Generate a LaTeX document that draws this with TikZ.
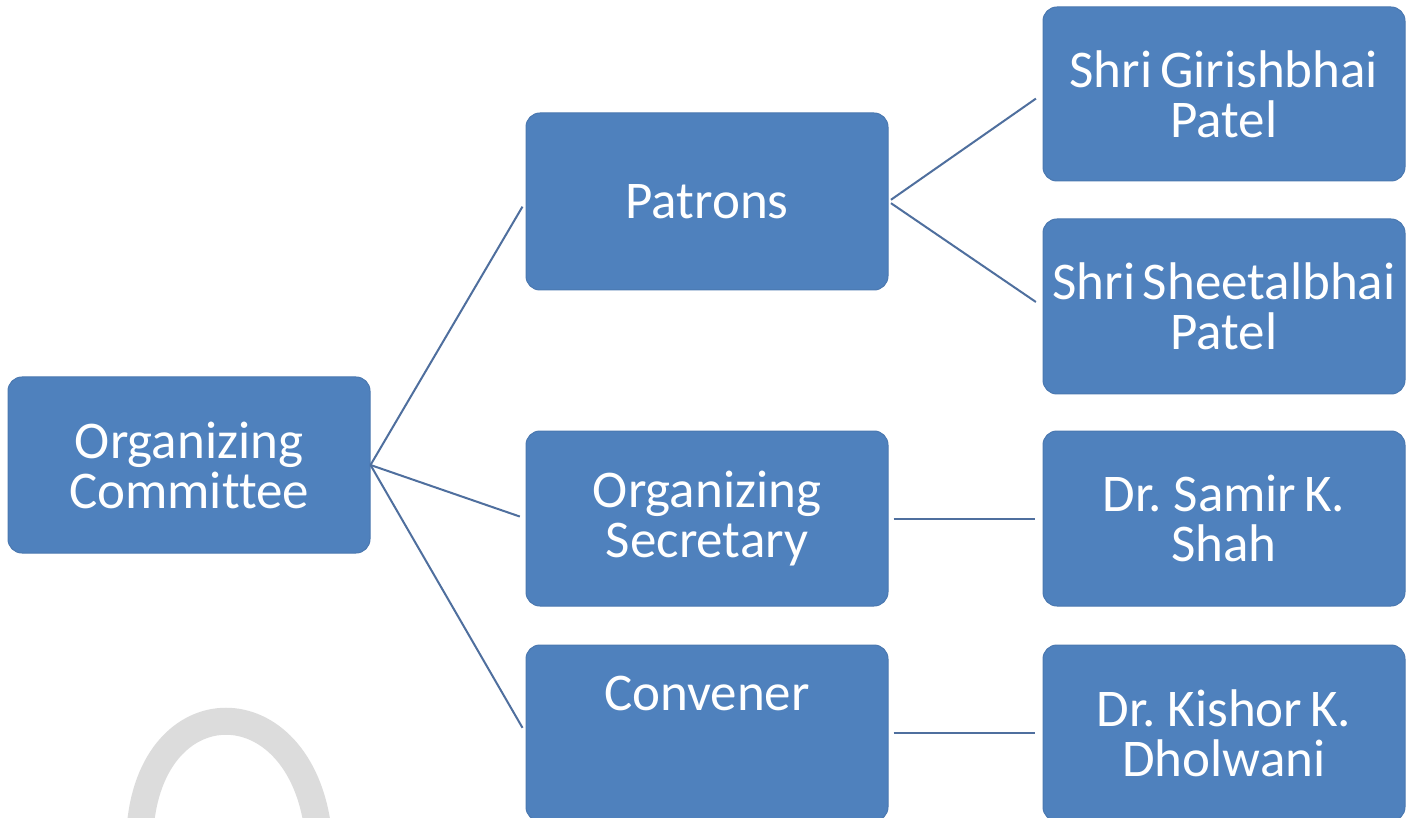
\documentclass[tikz,border=0pt]{standalone}
\usepackage{fontspec}
\setmainfont{Carlito}[Ligatures=CommonOff, WordSpace={0.65}]
\definecolor{boxblue}{HTML}{4F81BD}
\definecolor{boxedge}{HTML}{4A78B0}
\definecolor{linec}{HTML}{4F6F9E}
\definecolor{wmark}{HTML}{DCDCDC}
\tikzset{
  orgbox/.style={draw=boxedge, line width=1pt, fill=boxblue, rounded corners=14pt,
    minimum width=362pt, minimum height=176pt, text=white, inner sep=0pt,
    font=\fontsize{53}{50}\selectfont, align=center},
  conn/.style={draw=linec, line width=2pt},
}
\begin{document}
\begin{tikzpicture}[x=1pt,y=-1pt]
\clip (0,0) rectangle (1417,818);
\fill[white] (0,0) rectangle (1417,818);
% faint watermark arc
\draw[wmark, line width=27pt] (140,830) .. controls (150,685) and (300,685) .. (318,830);
% nodes
\node[orgbox] (oc) at (189,465) {Organizing\\Committee};
\node[orgbox, minimum height=177pt] (pat) at (707,201.5) {Patrons};
\node[orgbox, minimum height=175pt] (sec) at (707,518.5) {Organizing\\Secretary};
\node[orgbox] (conv) at (707,733) {Convener\\[30pt]\mbox{}};
\node[orgbox, minimum height=174pt] (gir) at (1224,94) {\raisebox{0pt}{Shri Girishbhai}\\Patel};
\node[orgbox, minimum height=175pt] (she) at (1224,306.5) {Shri Sheetalbhai\\Patel};
\node[orgbox, minimum height=175pt] (sam) at (1224,518.5) {Dr. Samir K.\\Shah};
\node[orgbox] (kis) at (1224,733) {Dr. Kishor K.\\Dholwani};
% connectors
\draw[conn, shorten >=6pt] (oc.east) -- (pat.west);
\draw[conn, shorten >=6pt] (oc.east) -- (sec.west);
\draw[conn, shorten >=6pt] (oc.east) -- (conv.west);
\draw[conn, shorten <=3pt, shorten >=8pt] (pat.east) -- (gir.west);
\draw[conn, shorten <=3pt, shorten >=8pt] (pat.east) -- (she.west);
\draw[conn, shorten <=5pt, shorten >=8pt] (sec.east) -- (sam.west);
\draw[conn, shorten <=5pt, shorten >=8pt] (conv.east) -- (kis.west);
\end{tikzpicture}
\end{document}
